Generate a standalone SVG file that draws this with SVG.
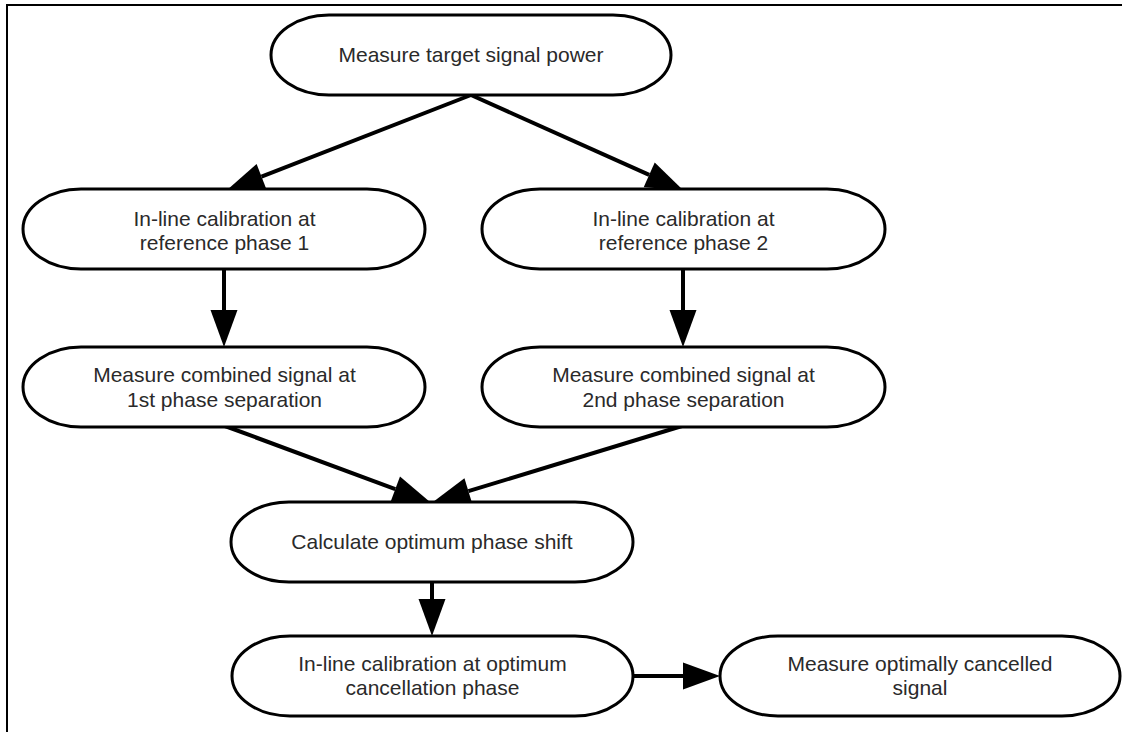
<svg xmlns="http://www.w3.org/2000/svg" width="1122" height="732" viewBox="0 0 1122 732">
<defs>
<style>
.node rect{fill:#fff;stroke:#000;stroke-width:3}
.node text{font-family:"Liberation Sans",Arial,sans-serif;font-size:21px;fill:#2a2a2a;text-anchor:middle}
.edge{stroke:#000;stroke-width:4;fill:none;marker-end:url(#ah)}
.frame{stroke:#000;stroke-width:2;fill:none}
</style>
<marker id="ah" markerUnits="userSpaceOnUse" markerWidth="38" markerHeight="28" refX="0" refY="13.5" orient="auto" overflow="visible">
<path d="M0,0 L37,13.5 L0,27 Z" fill="#000"/>
</marker>
</defs>
<rect width="1122" height="732" fill="#fff"/>
<path class="frame" d="M1122,5 H7 V732"/>
<g id="connectors">
<line class="edge" x1="471" y1="95" x2="261.5" y2="176.6"/>
<line class="edge" x1="471" y1="95" x2="649.2" y2="174.9"/>
<line class="edge" x1="224" y1="269" x2="224" y2="310"/>
<line class="edge" x1="683" y1="269" x2="683" y2="310"/>
<line class="edge" x1="225" y1="426" x2="395.3" y2="489.1"/>
<line class="edge" x1="682" y1="426" x2="468.4" y2="491.2"/>
<line class="edge" x1="432" y1="582" x2="432" y2="599"/>
<line class="edge" x1="633" y1="676" x2="683" y2="676"/>
</g>
<g id="n1" class="node"><rect x="271" y="15" width="400" height="80" rx="58" ry="40"/><text x="471" y="62">Measure target signal power</text></g>
<g id="n2" class="node"><rect x="23" y="189" width="402" height="80" rx="58" ry="40"/><text x="224.5" y="226">In-line calibration at</text><text x="224.5" y="250">reference phase 1</text></g>
<g id="n3" class="node"><rect x="482" y="189" width="403" height="80" rx="58" ry="40"/><text x="683.5" y="226">In-line calibration at</text><text x="683.5" y="250">reference phase 2</text></g>
<g id="n4" class="node"><rect x="23" y="347" width="402" height="80" rx="58" ry="40"/><text x="224.5" y="382">Measure combined signal at</text><text x="224.5" y="407">1st phase separation</text></g>
<g id="n5" class="node"><rect x="482" y="347" width="403" height="80" rx="58" ry="40"/><text x="683.5" y="382">Measure combined signal at</text><text x="683.5" y="407">2nd phase separation</text></g>
<g id="n6" class="node"><rect x="231" y="502" width="402" height="80" rx="58" ry="40"/><text x="432" y="549">Calculate optimum phase shift</text></g>
<g id="n7" class="node"><rect x="232" y="636" width="401" height="80" rx="58" ry="40"/><text x="432.5" y="671">In-line calibration at optimum</text><text x="432.5" y="695">cancellation phase</text></g>
<g id="n8" class="node"><rect x="720" y="636" width="400" height="80" rx="58" ry="40"/><text x="920" y="671">Measure optimally cancelled</text><text x="920" y="695">signal</text></g>
</svg>
